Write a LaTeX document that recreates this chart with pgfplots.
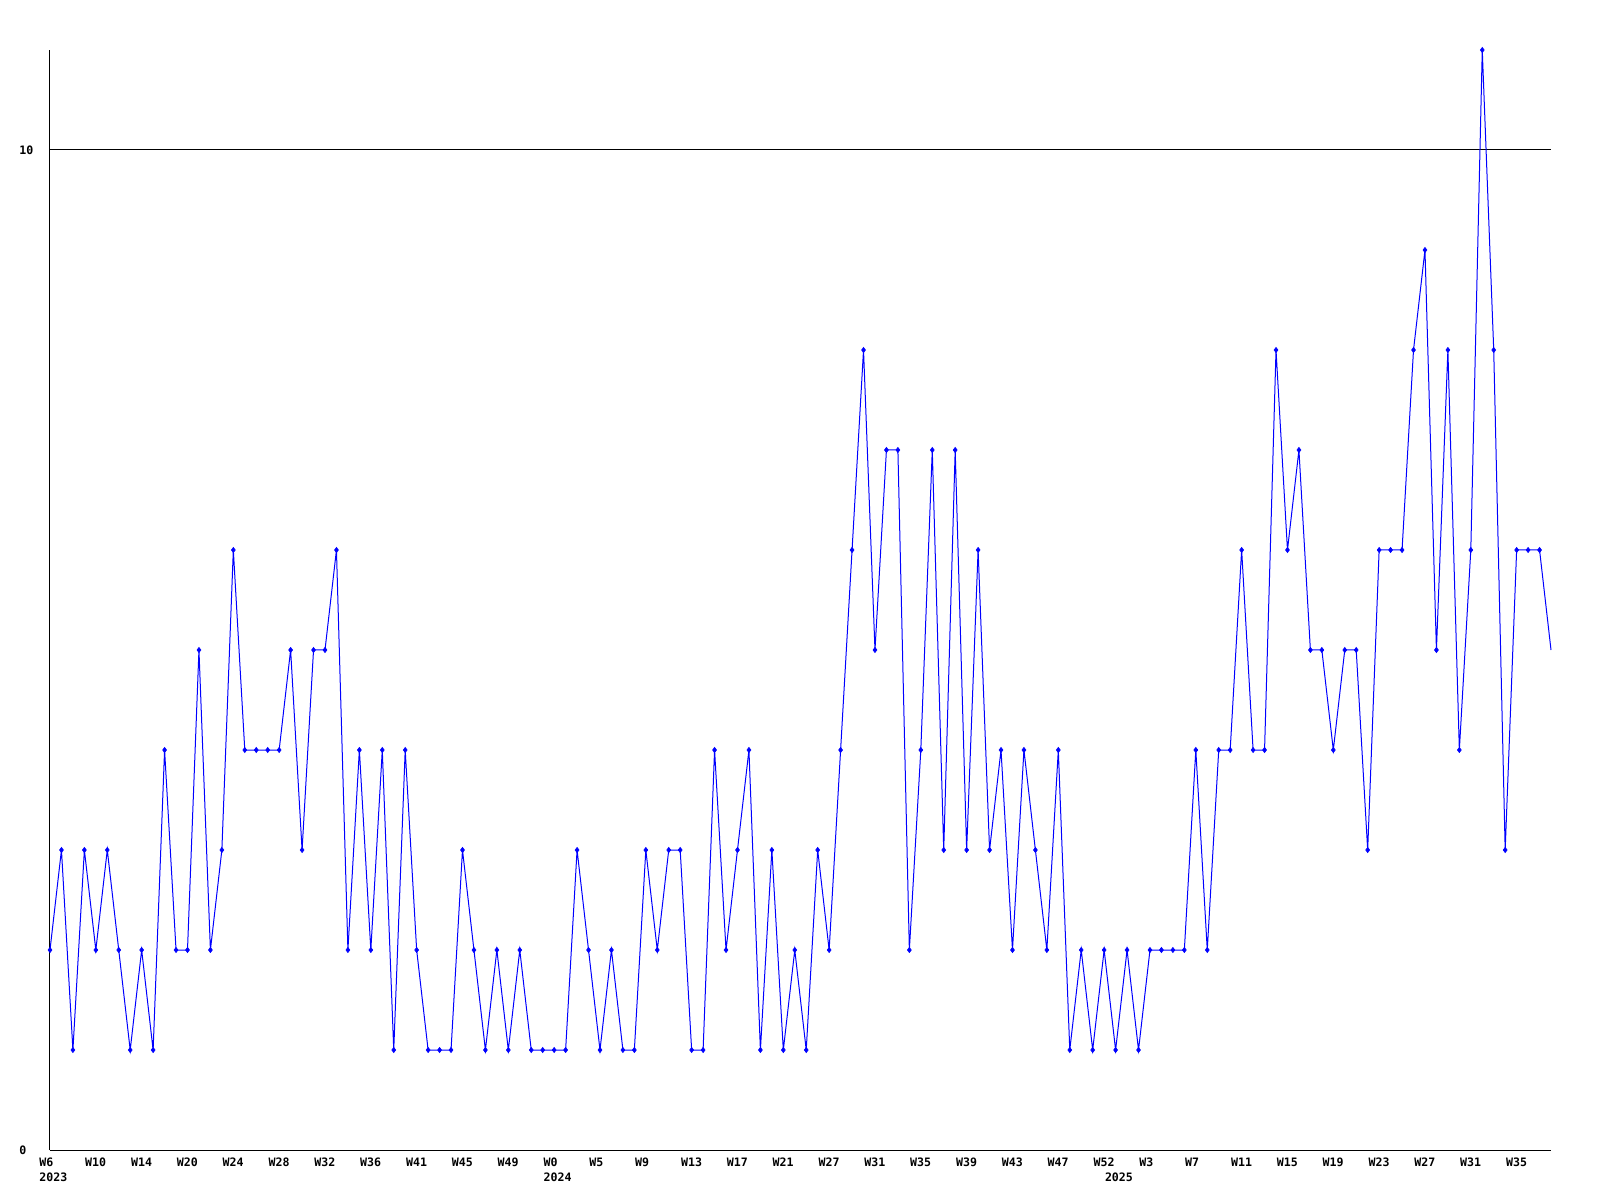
\documentclass[border=0pt]{standalone}
\usepackage{fontspec}
\setmonofont{DejaVu Sans Mono}
\usepackage{pgfplots}
\pgfplotsset{compat=1.18}
\usepackage{pgfplotstable}
\pgfplotstableread{
x y
1 2
2 3
3 1
4 3
5 2
6 3
7 2
8 1
9 2
10 1
11 4
12 2
13 2
14 5
15 2
16 3
17 6
18 4
19 4
20 4
21 4
22 5
23 3
24 5
25 5
26 6
27 2
28 4
29 2
30 4
31 1
32 4
33 2
34 1
35 1
36 1
37 3
38 2
39 1
40 2
41 1
42 2
43 1
44 1
45 1
46 1
47 3
48 2
49 1
50 2
51 1
52 1
53 3
54 2
55 3
56 3
57 1
58 1
59 4
60 2
61 3
62 4
63 1
64 3
65 1
66 2
67 1
68 3
69 2
70 4
71 6
72 8
73 5
74 7
75 7
76 2
77 4
78 7
79 3
80 7
81 3
82 6
83 3
84 4
85 2
86 4
87 3
88 2
89 4
90 1
91 2
92 1
93 2
94 1
95 2
96 1
97 2
98 2
99 2
100 2
101 4
102 2
103 4
104 4
105 6
106 4
107 4
108 8
109 6
110 7
111 5
112 5
113 4
114 5
115 5
116 3
117 6
118 6
119 6
120 8
121 9
122 5
123 8
124 4
125 6
126 11
127 8
128 3
129 6
130 6
131 6
132 5
}\datatable
\begin{document}
\begin{tikzpicture}
\useasboundingbox (-25pt,-25pt) rectangle (775pt,575pt);
\begin{axis}[
  at={(0,0)}, anchor=south west,
  scale only axis,
  width=750.5pt, height=550pt,
  xmin=1, xmax=132, ymin=0, ymax=11,
  axis x line=bottom, axis y line=left,
  axis line style={-, black, line width=0.5pt},
  clip=false,
  major tick length=0pt,
  ytick={0,10}, yticklabels={0,10},
  ymajorgrids, major grid style={black, line width=0.5pt},
  xtick={1,5,...,129},
  xticklabels={W6,W10,W14,W20,W24,W28,W32,W36,W41,W45,W49,W0,W5,W9,W13,W17,W21,W27,W31,W35,W39,W43,W47,W52,W3,W7,W11,W15,W19,W23,W27,W31,W35},
  extra x ticks={1,45,94},
  extra x tick labels={2023,2024,2025},
  extra x tick style={grid=none, xticklabel style={yshift=-7.5pt}},
  tick label style={font=\fontsize{5.8}{8}\selectfont\ttfamily\bfseries, inner sep=0pt},
  xticklabel style={anchor=north west, xshift=-5.5pt, yshift=-3.6pt},
  yticklabel style={anchor=west, xshift=-15.5pt},
  /pgf/number format/assume math mode=true,
]
\addplot[color={rgb,255:red,0;green,0;blue,255}, line width=0.5pt, no markers] table[x=x,y=y] {\datatable};
\addplot[only marks, restrict x to domain=1:131, mark=diamond*, mark size=1.3pt,
  mark options={fill={rgb,255:red,0;green,0;blue,255}, draw={rgb,255:red,0;green,0;blue,255}, line width=0.3pt}] table[x=x,y=y] {\datatable};
\end{axis}
\end{tikzpicture}
\end{document}
